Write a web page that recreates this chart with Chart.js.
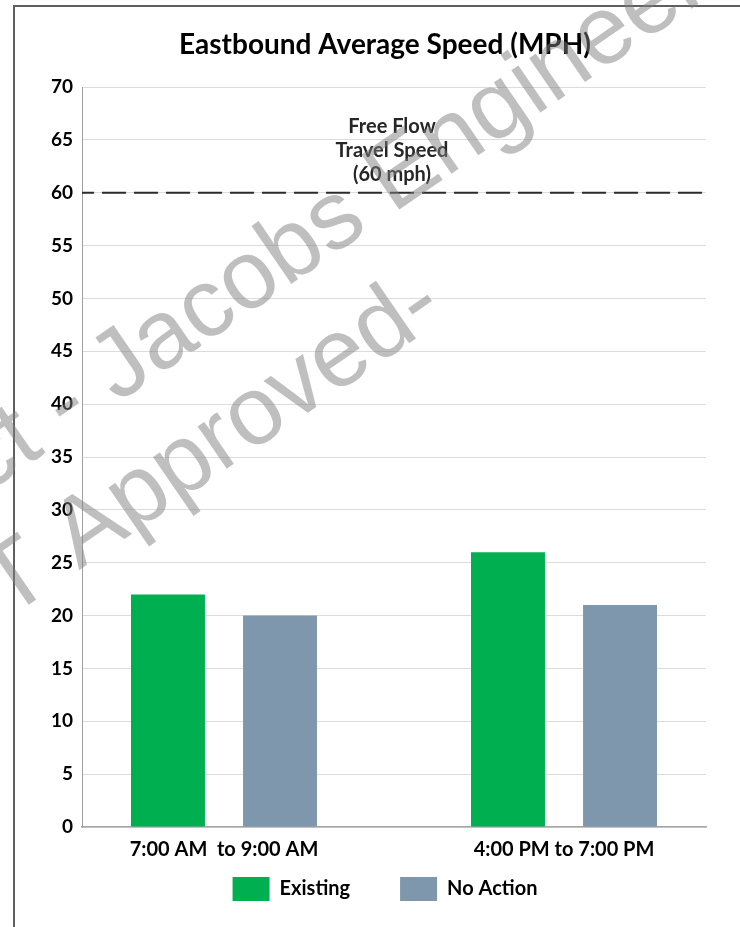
<!DOCTYPE html>
<html>
<head>
<meta charset="utf-8">
<script src="https://cdn.jsdelivr.net/npm/chart.js@4.4.1/dist/chart.umd.min.js"></script>
<style>
  html, body { margin: 0; padding: 0; background: #fff; overflow: hidden; }
  #frame { position: absolute; left: 13px; top: 5px; width: 800px; height: 1000px;
           border-left: 2px solid #5f5f5f; border-top: 2px solid #5f5f5f; }
  #wrap { position: absolute; left: 0; top: 0; width: 740px; height: 927px; }
</style>
</head>
<body>
<div id="frame"></div>
<div id="wrap"><canvas id="speedChart"></canvas></div>
<script>
const PERIODS = ['7:00 AM  to 9:00 AM', '4:00 PM to 7:00 PM'];
const EXISTING = [22, 26];
const NO_ACTION = [20, 21];
const Y_TICKS = [0, 5, 10, 15, 20, 25, 30, 35, 40, 45, 50, 55, 60, 65, 70];
const FREE_FLOW = 60;
const FREE_FLOW_LABEL = ['Free Flow', 'Travel Speed', '(60 mph)'];
const WATERMARK = ['ct - Jacobs Engineer', 'T Approved-'];

const FONT = 'Lato';

// dashed free-flow line + its label
const freeFlowPlugin = {
    id: 'freeFlow',
    afterDatasetsDraw(chart) {
        const { ctx, chartArea, scales } = chart;
        const y = scales.y.getPixelForValue(FREE_FLOW);
        ctx.save();
        ctx.strokeStyle = '#2b2b2b';
        ctx.lineWidth = 2;
        ctx.setLineDash([24, 8]);
        ctx.lineDashOffset = 12;
        ctx.beginPath();
        ctx.moveTo(chartArea.left, y);
        ctx.lineTo(chartArea.right, y);
        ctx.stroke();
        ctx.setLineDash([]);
        ctx.fillStyle = '#262626';
        ctx.font = 'bold 20px ' + FONT;
        ctx.textAlign = 'center';
        ctx.textBaseline = 'middle';
        const cx = scales.x.getPixelForValue(0.5) - 2;
        FREE_FLOW_LABEL.forEach((line, i) => {
            ctx.fillText(line, cx, y - 66 + i * 24);
        });
        ctx.restore();
    }
};

// grey diagonal stamp over the chart
const watermarkPlugin = {
    id: 'watermark',
    afterDraw(chart) {
        const ctx = chart.ctx;
        const angle = -34.5 * Math.PI / 180;
        ctx.save();
        ctx.fillStyle = 'rgba(128,128,128,0.5)';
        ctx.font = '97px "Liberation Sans"';
        ctx.textBaseline = 'alphabetic';
        ctx.textAlign = 'left';
        const starts = [[-16, 495], [8, 619]];
        WATERMARK.forEach((txt, i) => {
            ctx.save();
            ctx.translate(starts[i][0], starts[i][1]);
            ctx.rotate(angle);
            ctx.fillText(txt, 0, 0);
            ctx.restore();
        });
        ctx.restore();
    }
};

// tick labels may spill outside the (narrow) axis boxes
const noLabelClip = s => { s._computeLabelArea = () => undefined; };

const ctx = document.getElementById('speedChart').getContext('2d');
new Chart(ctx, {
    type: 'bar',
    data: {
        datasets: [
            {
                label: 'Existing',
                data: EXISTING.map((v, i) => ({ x: i, y: v })),
                backgroundColor: '#00B050',
                categoryPercentage: 0.659,
                barPercentage: 0.66
            },
            {
                label: 'No Action',
                data: NO_ACTION.map((v, i) => ({ x: i, y: v })),
                backgroundColor: '#7F97AD',
                categoryPercentage: 0.659,
                barPercentage: 0.66
            }
        ]
    },
    options: {
        responsive: true,
        maintainAspectRatio: false,
        animation: false,
        layout: { padding: { left: 64, right: 34, top: 28, bottom: 16 } },
        plugins: {
            title: {
                display: true,
                text: 'Eastbound Average Speed (MPH)',
                color: '#000',
                font: { family: FONT, size: 28, weight: 'bold' },
                padding: { top: 0, bottom: 25.4 }
            },
            legend: {
                position: 'bottom',
                labels: {
                    color: '#000',
                    font: { family: FONT, size: 20, weight: 'bold' },
                    boxWidth: 37,
                    boxHeight: 24,
                    padding: 50
                }
            },
            tooltip: { enabled: false }
        },
        scales: {
            x: {
                type: 'linear',
                offset: false,
                min: -0.4176,
                max: 1.4176,
                grid: { display: false, drawTicks: false },
                border: { color: '#a6a6a6', width: 1.5 },
                afterBuildTicks: s => { s.ticks = PERIODS.map((p, i) => ({ value: i })); },
                afterFit: s => { s.height = 0; noLabelClip(s); },
                ticks: {
                    autoSkip: false,
                    maxRotation: 0,
                    padding: 11,
                    color: '#000',
                    font: { family: FONT, size: 20, weight: 'bold' },
                    callback: v => PERIODS[v]
                }
            },
            y: {
                min: 0,
                max: 70,
                afterBuildTicks: s => { s.ticks = Y_TICKS.map(v => ({ value: v })); },
                afterFit: s => { s.width = 18; noLabelClip(s); },
                grid: { color: '#dcdcdc', lineWidth: 1, drawTicks: false },
                border: { color: '#a0a0a0', width: 1 },
                ticks: {
                    padding: 9,
                    color: '#000',
                    font: { family: FONT, size: 19, weight: 'bold' }
                }
            }
        }
    },
    plugins: [freeFlowPlugin, watermarkPlugin]
});
</script>
</body>
</html>
